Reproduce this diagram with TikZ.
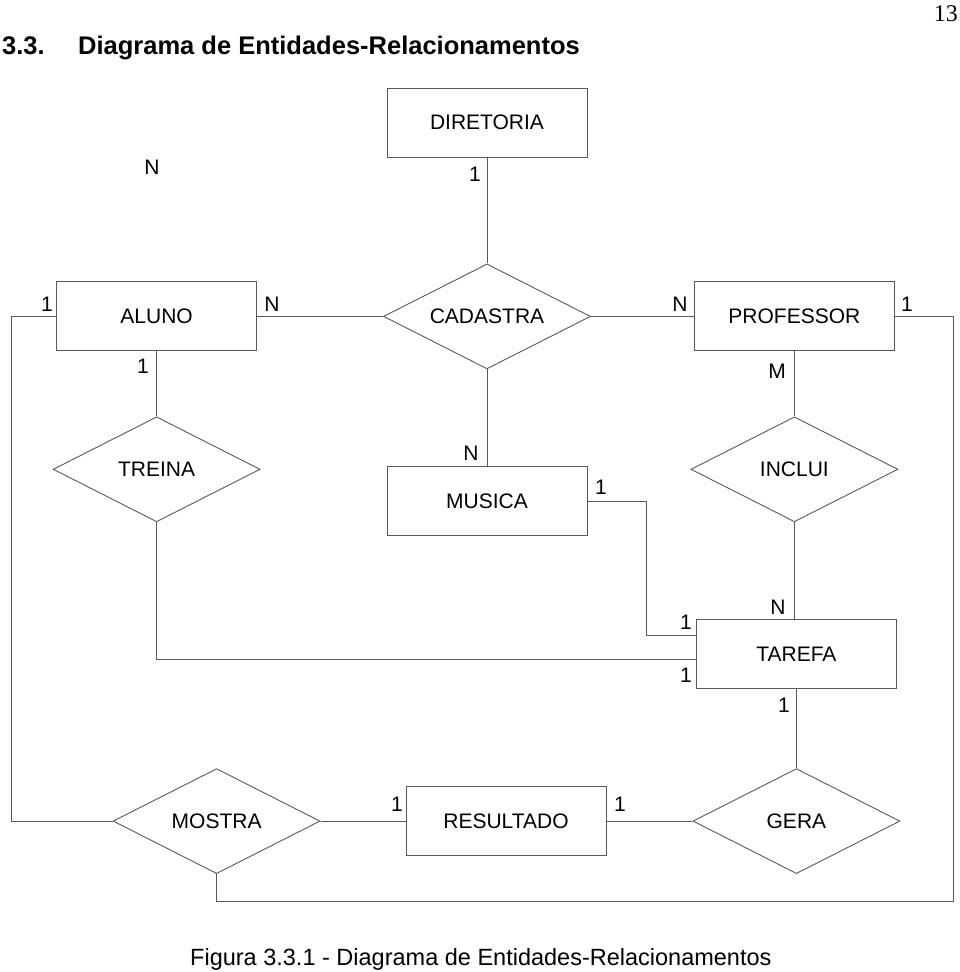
\documentclass[tikz,border=0pt]{standalone}
\usepackage{fontspec}
\setmainfont{Liberation Sans}
\newfontfamily\pagenofont{Liberation Serif}
\usetikzlibrary{shapes.geometric,positioning}

\begin{document}
\begin{tikzpicture}[
    x=1bp, y=-1bp,
    node distance=65bp and 100bp,
    entbox/.style={rectangle, draw=black!65, line width=0.9bp, minimum width=200bp, minimum height=69bp, inner sep=0pt, font=\fontsize{21bp}{24bp}\selectfont},
    relbox/.style={diamond, aspect=1.97, draw=black!65, line width=0.9bp, minimum width=207bp, minimum height=105bp, inner sep=0pt, font=\fontsize{21bp}{24bp}\selectfont},
    card/.style={inner sep=0pt, font=\fontsize{21bp}{24bp}\selectfont},
    link/.style={draw=black!65, line width=0.9bp}
]
\useasboundingbox (0,0) rectangle (960,972);

% === Heading and page number ===
\node[anchor=base west, inner sep=0pt, font=\fontsize{25.5bp}{29bp}\selectfont\bfseries] (sec-num) at (2,54) {3.3.};
\node[anchor=base west, inner sep=0pt, font=\fontsize{25.5bp}{29bp}\selectfont\bfseries] (sec-title) at (78,54) {Diagrama de Entidades-Relacionamentos};
\node[anchor=base east, inner sep=0pt, font=\fontsize{24bp}{27bp}\pagenofont] (page-num) at (958,21) {13};

% === Entities and relationships ===
\node[entbox] (diretoria) at (487,122.5) {DIRETORIA};
\node[relbox, below=106bp of diretoria] (cadastra) {CADASTRA};
\node[entbox, left=126bp of cadastra] (aluno) {ALUNO};
\node[entbox, right=103bp of cadastra] (professor) {PROFESSOR};
\node[relbox, below=65bp of aluno] (treina) {TREINA};
\node[relbox, below=65bp of professor] (inclui) {INCLUI};
\node[entbox, below=97bp of cadastra] (musica) {MUSICA};
\node[entbox, below=97bp of inclui, xshift=2bp] (tarefa) {TAREFA};
\node[relbox, below=79bp of tarefa] (gera) {GERA};
\node[entbox, left=86bp of gera] (resultado) {RESULTADO};
\node[relbox, left=85bp of resultado] (mostra) {MOSTRA};

% corner of the outer loop
\coordinate (loop-se) at (953,901);

% === Connectors ===
\draw[link] (diretoria.south) -- (cadastra.north);
\draw[link] (aluno.east) -- (cadastra.west);
\draw[link] (cadastra.east) -- (professor.west);
\draw[link] (cadastra.south) -- (musica.north);
\draw[link] (aluno.south) -- (treina.north);
\draw[link] (professor.south) -- (inclui.north);
\draw[link] (inclui.south) -- (inclui.south |- tarefa.north);
\draw[link] (tarefa.south) -- (gera.north);
\draw[link] (gera.west) -- (resultado.east);
\draw[link] (resultado.west) -- (mostra.east);
\draw[link] (treina.south) |- ([yshift=-5bp]tarefa.west);
\draw[link] (musica.east) -- ++(59bp,0) |- ([yshift=19bp]tarefa.west);
\draw[link] (aluno.west) -- ++(-45bp,0) |- (mostra.west);
\draw[link] (professor.east) -| (loop-se) -| (mostra.south);

% === Cardinalities ===
\node[card] (n-top) at (152,167) {N};
\node[card] (c-dir) at (475,174) {1};
\node[card] (c-alu-w) at (47,304) {1};
\node[card] (n-alu-e) at (272,304) {N};
\node[card] (n-pro-w) at (680,304) {N};
\node[card] (c-pro-e) at (907,304) {1};
\node[card] (c-alu-s) at (143,366) {1};
\node[card] (m-pro-s) at (777,371) {M};
\node[card] (n-mus) at (471,453) {N};
\node[card] (c-mus) at (601,487) {1};
\node[card] (n-tar) at (778,607) {N};
\node[card] (c-tar-a) at (686,622) {1};
\node[card] (c-tar-b) at (686,675) {1};
\node[card] (c-tar-s) at (784,705) {1};
\node[card] (c-res-w) at (397,804) {1};
\node[card] (c-res-e) at (620,804) {1};

% === Caption ===
\node[anchor=base west, inner sep=0pt, font=\fontsize{23.5bp}{27bp}\selectfont] (caption) at (190,965) {Figura 3.3.1 - Diagrama de Entidades-Relacionamentos};

\end{tikzpicture}
\end{document}
